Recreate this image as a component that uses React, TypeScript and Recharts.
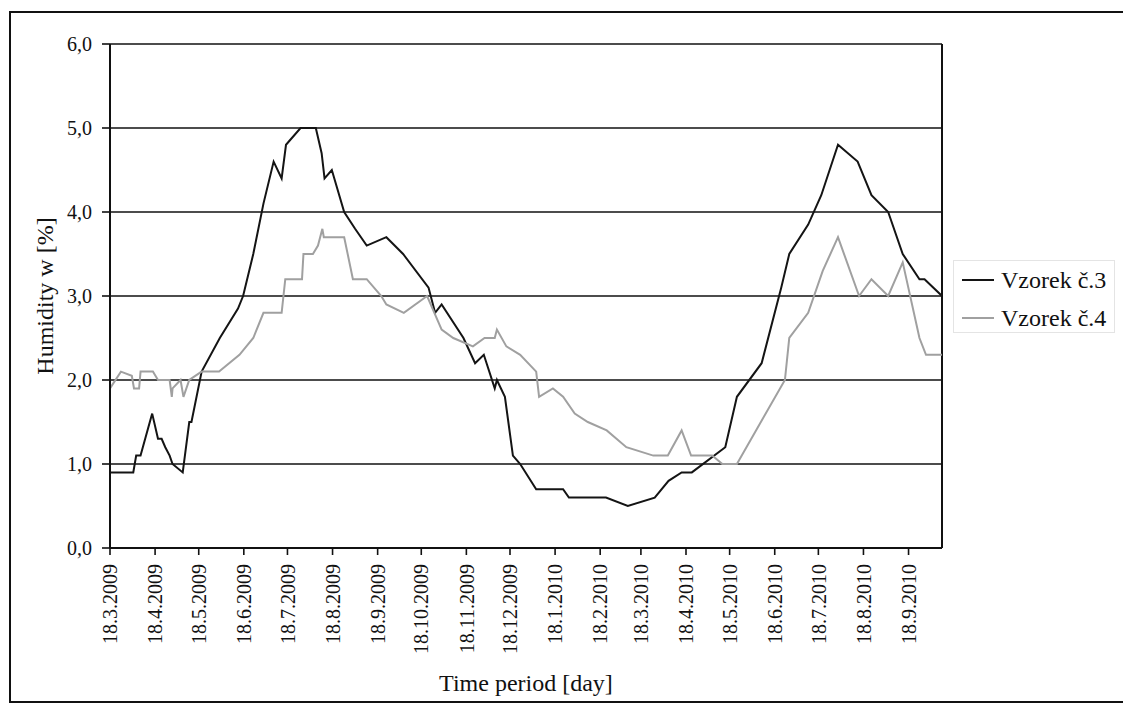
import React from 'react';
import { LineChart, Line, XAxis, YAxis, CartesianGrid, ReferenceLine, Legend, Label } from 'recharts';

// x values: days since 18.3.2009
const startLabel = '18.3.2009';
const tickLabels = [
  '18.3.2009', '18.4.2009', '18.5.2009', '18.6.2009', '18.7.2009', '18.8.2009', '18.9.2009',
  '18.10.2009', '18.11.2009', '18.12.2009', '18.1.2010', '18.2.2010', '18.3.2010', '18.4.2010',
  '18.5.2010', '18.6.2010', '18.7.2010', '18.8.2010', '18.9.2010',
];
const yTicks = [0, 1, 2, 3, 4, 5, 6];

const s3Days = [0, 16, 18, 21, 29, 33, 35.5, 38, 41, 43, 50, 54.5, 56, 63, 75.5, 88, 91.5, 98.5, 105.5, 112.5, 118, 121, 131, 141.5, 145.5, 147.5, 152.5, 161, 168.5, 176.5, 190, 201.5, 219, 223.5, 228, 243, 251, 257, 264.5, 266, 271.5, 277, 282, 293, 311.5, 315.5, 341, 356, 374.5, 384, 393, 400, 423, 431, 448, 461.5, 467, 480, 489, 500.5, 514, 523.5, 535, 545, 556.5, 560, 572];
const s3Values = [0.9, 0.9, 1.1, 1.1, 1.6, 1.3, 1.3, 1.2, 1.1, 1.0, 0.9, 1.5, 1.5, 2.1, 2.5, 2.85, 3.0, 3.5, 4.1, 4.6, 4.4, 4.8, 5.0, 5.0, 4.7, 4.4, 4.5, 4.0, 3.8, 3.6, 3.7, 3.5, 3.1, 2.8, 2.9, 2.5, 2.2, 2.3, 1.9, 2.0, 1.8, 1.1, 1.0, 0.7, 0.7, 0.6, 0.6, 0.5, 0.6, 0.8, 0.9, 0.9, 1.2, 1.8, 2.2, 3.1, 3.5, 3.85, 4.2, 4.8, 4.6, 4.2, 4.0, 3.5, 3.2, 3.2, 3.0];

const s4Days = [0, 7.5, 15, 16.5, 20, 21, 29.5, 33, 41, 42.5, 43, 48.5, 50.5, 54.5, 63, 75, 89, 98.5, 105.5, 118, 120.5, 132, 133, 139.5, 143, 146, 147, 161, 167, 176.5, 186.5, 190, 202, 218, 228, 236, 249.5, 257.5, 264.5, 266, 272.5, 282, 293, 295, 304.5, 311.5, 319.5, 328.5, 341.5, 355, 373.5, 383.5, 393, 399.5, 414, 421, 431, 464, 467, 480, 490, 500.5, 515, 523.5, 535, 545, 556.5, 561, 572];
const s4Values = [1.9, 2.1, 2.05, 1.9, 1.9, 2.1, 2.1, 2.0, 2.0, 1.8, 1.9, 2.0, 1.8, 2.0, 2.1, 2.1, 2.3, 2.5, 2.8, 2.8, 3.2, 3.2, 3.5, 3.5, 3.6, 3.8, 3.7, 3.7, 3.2, 3.2, 3.0, 2.9, 2.8, 3.0, 2.6, 2.5, 2.4, 2.5, 2.5, 2.6, 2.4, 2.3, 2.1, 1.8, 1.9, 1.8, 1.6, 1.5, 1.4, 1.2, 1.1, 1.1, 1.4, 1.1, 1.1, 1.0, 1.0, 2.0, 2.5, 2.8, 3.3, 3.7, 3.0, 3.2, 3.0, 3.4, 2.5, 2.3, 2.3];

const seriesNames = ['Vzorek č.3', 'Vzorek č.4'];
const seriesColors = ['#141414', '#a0a0a0'];
const xEnd = 572;

const parseDate = (s: string) => {
  const [d, m, y] = s.split('.').map(Number);
  return Date.UTC(y, m - 1, d);
};
const dayOf = (s: string) => Math.round((parseDate(s) - parseDate(startLabel)) / 86400000);
const xTicks = tickLabels.map(dayOf);
const labelByDay: Record<number, string> = {};
tickLabels.forEach((l) => { labelByDay[dayOf(l)] = l; });

const data3 = s3Days.map((d, i) => ({ day: d, v: s3Values[i] }));
const data4 = s4Days.map((d, i) => ({ day: d, v: s4Values[i] }));

const FONT = 'Liberation Serif, Tinos, Times New Roman, DejaVu Serif, serif';

const XTick = (props: any) => {
  const { x, y, payload } = props;
  return (
    <text
      x={x}
      y={y}
      transform={`rotate(-90, ${x}, ${y})`}
      textAnchor="end"
      dy="0.36em"
      style={{ fontFamily: FONT, fontSize: 20 }}
      fill="#111"
    >
      {labelByDay[payload.value]}
    </text>
  );
};

const YTick = (props: any) => {
  const { x, y, payload } = props;
  return (
    <text x={x} y={y} textAnchor="end" dy="0.36em" style={{ fontFamily: FONT, fontSize: 20 }} fill="#111">
      {payload.value.toFixed(1).replace('.', ',')}
    </text>
  );
};

const XTitle = (props: any) => {
  const vb = props.viewBox;
  return (
    <text x={vb.x + vb.width / 2} y={683} textAnchor="middle" style={{ fontFamily: FONT, fontSize: 24 }} fill="#111">
      Time period [day]
    </text>
  );
};

const YTitle = (props: any) => {
  const vb = props.viewBox;
  const cy = vb.y + vb.height / 2;
  const cx = 36;
  return (
    <text
      x={cx}
      y={cy}
      transform={`rotate(-90, ${cx}, ${cy})`}
      textAnchor="middle"
      dy="0.36em"
      style={{ fontFamily: FONT, fontSize: 24 }}
      fill="#111"
    >
      Humidity w [%]
    </text>
  );
};

const LegendBox = () => (
  <div
    style={{
      width: 162,
      height: 73,
      border: '1px solid #e4e4e4',
      boxSizing: 'border-box',
      fontFamily: FONT,
      fontSize: 24,
      color: '#111',
      position: 'relative',
      background: '#fff',
    }}
  >
    {seriesNames.map((n, i) => (
      <div key={n} style={{ position: 'absolute', left: 8, top: 4 + i * 38, height: 30, display: 'flex', alignItems: 'center', whiteSpace: 'nowrap' }}>
        <svg width={34} height={4} style={{ marginRight: 5 }}>
          <line x1={0} y1={2} x2={32} y2={2} stroke={seriesColors[i]} strokeWidth={2} />
        </svg>
        <span>{n}</span>
      </div>
    ))}
  </div>
);

export default function App() {
  return (
    <div style={{ position: 'absolute', left: 0, top: 0, width: 1123, height: 711, overflow: 'hidden', background: '#fff' }}>
      <div
        style={{
          position: 'absolute',
          left: 9,
          top: 11,
          width: 1114,
          height: 692,
          borderTop: '2px solid #111',
          borderLeft: '2px solid #111',
          borderBottom: '2px solid #111',
          boxSizing: 'border-box',
        }}
      />
      <div style={{ position: 'absolute', left: 8, top: 8 }}>
        <LineChart width={1115} height={700} margin={{ top: 36, right: 181, bottom: 50, left: 42 }}>
          <CartesianGrid vertical={false} stroke="#111" strokeWidth={1.6} />
          <XAxis
            dataKey="day"
            type="number"
            domain={[0, xEnd]}
            ticks={xTicks}
            interval={0}
            allowDataOverflow
            tick={<XTick />}
            tickSize={7}
            tickMargin={9}
            height={110}
            axisLine={{ stroke: '#111', strokeWidth: 2 }}
            tickLine={{ stroke: '#111', strokeWidth: 1.6 }}
          >
            <Label content={<XTitle />} />
          </XAxis>
          <YAxis
            type="number"
            domain={[0, 6]}
            ticks={yTicks}
            interval={0}
            width={60}
            tick={<YTick />}
            tickSize={8}
            tickMargin={10}
            axisLine={{ stroke: '#111', strokeWidth: 2 }}
            tickLine={{ stroke: '#111', strokeWidth: 1.6 }}
          >
            <Label content={<YTitle />} />
          </YAxis>
          <ReferenceLine x={xEnd} stroke="#111" strokeWidth={2} />
          <Line
            data={data3}
            dataKey="v"
            name={seriesNames[0]}
            type="linear"
            stroke={seriesColors[0]}
            strokeWidth={2}
            dot={false}
            isAnimationActive={false}
          />
          <Line
            data={data4}
            dataKey="v"
            name={seriesNames[1]}
            type="linear"
            stroke={seriesColors[1]}
            strokeWidth={2}
            dot={false}
            isAnimationActive={false}
          />
          <Legend
            layout="vertical"
            align="center"
            verticalAlign="middle"
            content={<LegendBox />}
            wrapperStyle={{ left: 945, top: 252, width: 162, height: 73 }}
          />
        </LineChart>
      </div>
    </div>
  );
}
